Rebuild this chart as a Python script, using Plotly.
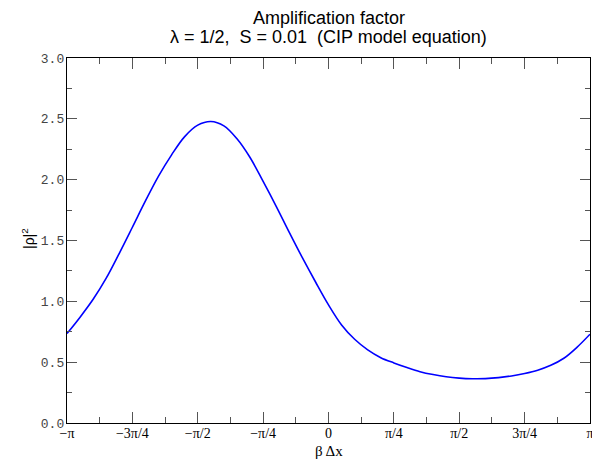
import numpy as np
import plotly.graph_objects as go

# beta*dx in units of pi (every pi/20), and |rho|^2
x_pi = [-1.00, -0.95, -0.90, -0.85, -0.80, -0.75, -0.70, -0.65, -0.60, -0.55,
        -0.50, -0.45, -0.40, -0.35, -0.30, -0.25, -0.20, -0.15, -0.10, -0.05,
        0.00, 0.05, 0.10, 0.15, 0.20, 0.25, 0.30, 0.35, 0.40, 0.45,
        0.50, 0.55, 0.60, 0.65, 0.70, 0.75, 0.80, 0.85, 0.90, 0.95, 1.00]
rho2 = [0.735, 0.870, 1.017, 1.190, 1.395, 1.609, 1.825, 2.029, 2.204, 2.354,
        2.448, 2.478, 2.442, 2.336, 2.182, 1.985, 1.781, 1.567, 1.359, 1.161,
        0.971, 0.806, 0.688, 0.601, 0.537, 0.494, 0.456, 0.422, 0.398, 0.380,
        0.369, 0.364, 0.365, 0.373, 0.387, 0.407, 0.434, 0.474, 0.532, 0.622, 0.730]

xtick_pi = [-1, -0.75, -0.5, -0.25, 0, 0.25, 0.5, 0.75, 1]
xtick_text = ["\u2212\u03c0", "\u22123\u03c0/4", "\u2212\u03c0/2", "\u2212\u03c0/4", "0",
              "\u03c0/4", "\u03c0/2", "3\u03c0/4", "\u03c0"]
xminor_pi = [-0.875, -0.625, -0.375, -0.125, 0.125, 0.375, 0.625, 0.875]
ytick_vals = [0.0, 0.5, 1.0, 1.5, 2.0, 2.5, 3.0]
yminor_vals = [0.25, 0.75, 1.25, 1.75, 2.25, 2.75]

title1 = "Amplification factor"
title2 = "\u03bb = 1/2,\u00a0 S = 0.01\u00a0 (CIP model equation)"
xlabel = "\u03b2 \u0394x"
ylabel = "|\u03c1|<sup>2</sup>"

x = np.array(x_pi) * np.pi

fig = go.Figure()
fig.add_trace(go.Scatter(x=x, y=rho2, mode="lines",
                         line=dict(color="#0000ff", width=1.6, shape="spline", smoothing=1.0),
                         hoverinfo="skip", showlegend=False))

tickcol = "#555555"
W, H = 592, 460
ML, MR, MT, MB = 67, 2, 58, 37
PW, PH = W - ML - MR, H - MT - MB

def py(pix):  # pixel row -> paper y
    return (H - MB - pix) / PH

def px(pix):  # pixel column -> paper x
    return (pix - ML) / PW

fig.update_layout(
    width=W, height=H, autosize=False,
    margin=dict(l=ML, r=MR, t=MT, b=MB, autoexpand=False),
    paper_bgcolor="white", plot_bgcolor="white",
    xaxis=dict(range=[-np.pi, np.pi], tickmode="array",
               tickvals=list(np.array(xtick_pi) * np.pi), ticktext=xtick_text,
               ticks="inside", ticklen=11, tickwidth=1, tickcolor=tickcol,
               showline=True, linecolor="black", linewidth=1.2, mirror="ticks",
               showgrid=False, zeroline=False, ticklabelstandoff=-3,
               ticklabeloverflow="allow", automargin=False,
               tickfont=dict(family="Liberation Serif", size=14, color="black"),
               minor=dict(tickmode="array", tickvals=list(np.array(xminor_pi) * np.pi),
                          ticks="inside", ticklen=6, tickcolor=tickcol, showgrid=False)),
    yaxis=dict(range=[0, 3], tickmode="array", tickvals=ytick_vals,
               tickformat=".1f", automargin=False,
               ticks="inside", ticklen=10, tickwidth=1, tickcolor=tickcol,
               showline=True, linecolor="black", linewidth=1.2, mirror="ticks",
               showgrid=False, zeroline=False, ticklabelstandoff=-1,
               tickfont=dict(family="Liberation Mono", size=13, color="#444444"),
               minor=dict(tickmode="array", tickvals=yminor_vals,
                          ticks="inside", ticklen=5, tickcolor=tickcol, showgrid=False)),
    annotations=[
        dict(text=title1, x=0.5, y=py(17.7), xref="paper", yref="paper",
             xanchor="center", yanchor="middle", showarrow=False,
             font=dict(family="Liberation Sans", size=18, color="black")),
        dict(text=title2, x=0.5, y=py(37.5), xref="paper", yref="paper",
             xanchor="center", yanchor="middle", showarrow=False,
             font=dict(family="Liberation Sans", size=18, color="black")),
        dict(text=xlabel, x=0.5, y=py(450.5), xref="paper", yref="paper",
             xanchor="center", yanchor="middle", showarrow=False,
             font=dict(family="Liberation Serif", size=15, color="black")),
        dict(text=ylabel, x=px(28), y=py(239), xref="paper", yref="paper",
             xanchor="center", yanchor="middle", showarrow=False, textangle=-90,
             font=dict(family="Liberation Sans", size=14, color="black")),
    ],
)

fig.write_html("out.html", config={"displayModeBar": False, "staticPlot": True})
with open("out.html", "r", encoding="utf-8") as f:
    html = f.read()
html = html.replace("<body>", '<body style="margin:0;padding:0;overflow:hidden">', 1)
with open("out.html", "w", encoding="utf-8") as f:
    f.write(html)
